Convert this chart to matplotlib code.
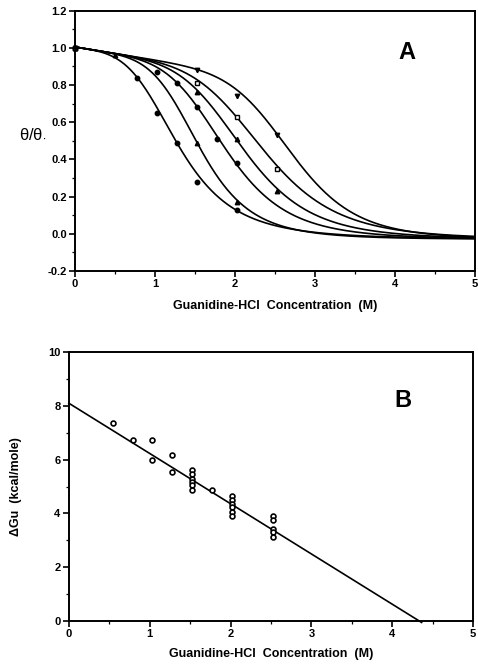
import numpy as np
import matplotlib.pyplot as plt
from matplotlib.ticker import MultipleLocator

plt.rcParams['font.family'] = ['Liberation Sans', 'DejaVu Sans']
plt.rcParams['font.weight'] = 'bold'
plt.rcParams['mathtext.fontset'] = 'dejavusans'
plt.rcParams['mathtext.default'] = 'regular'

# --- panel A: unfolding curves (measured points + fitted curves) ---
a_x = [
    [0, 0.78, 1.03, 1.28, 1.53, 2.03],
    [0, 0.50, 1.53, 2.03],
    [0, 1.03, 1.28, 1.53, 1.78, 2.03],
    [0, 1.53, 2.03, 2.53],
    [0, 1.53, 2.03, 2.53],
    [0, 1.53, 2.03, 2.53],
]
a_y = [
    [1.0, 0.84, 0.65, 0.49, 0.28, 0.13],
    [1.0, 0.96, 0.49, 0.17],
    [1.0, 0.87, 0.81, 0.68, 0.51, 0.38],
    [1.0, 0.76, 0.51, 0.23],
    [1.0, 0.81, 0.63, 0.35],
    [1.0, 0.88, 0.74, 0.53],
]
a_markers = ['o', '^', 'o', '^', 's', 'v']
a_filled = [True, True, True, True, False, True]

# fitted transition parameters for each curve
fit_cm = [1.34, 1.60, 1.94, 2.18, 2.45, 2.78]
fit_n = [3.8, 5.0, 5.0, 5.2, 5.3, 6.9]
base_native = (1.005, -0.07)   # intercept, slope
base_unfolded = -0.03

# --- panel B: free energy of unfolding vs denaturant ---
b_x = [0.55, 0.79, 1.03, 1.03, 1.28, 1.27,
       1.52, 1.52, 1.52, 1.52, 1.52, 1.52, 1.77,
       2.02, 2.02, 2.02, 2.02, 2.02, 2.02,
       2.52, 2.52, 2.52, 2.52, 2.52]
b_y = [7.36, 6.72, 6.72, 6.00, 6.17, 5.55,
       5.60, 5.45, 5.29, 5.17, 5.04, 4.86, 4.86,
       4.65, 4.49, 4.36, 4.24, 4.05, 3.90,
       3.89, 3.74, 3.41, 3.29, 3.12]
dg_water = 8.1
m_value = 1.87


def unfold_curve(x, cm, n):
    yn = base_native[0] + base_native[1] * x
    fu = np.zeros_like(x)
    nz = x > 0
    fu[nz] = 1.0 / (1.0 + (cm / x[nz]) ** n)
    return yn * (1 - fu) + base_unfolded * fu


def style_axes(ax):
    for sp in ax.spines.values():
        sp.set_linewidth(1.4)
    ax.tick_params(which='major', direction='out', length=4, width=1.2,
                   labelsize=8, pad=2)
    ax.tick_params(which='minor', direction='out', length=2, width=0.9)
    for lab in ax.get_xticklabels() + ax.get_yticklabels():
        lab.set_fontweight('bold')


fig = plt.figure(figsize=(4.78, 6.72), dpi=100)

axA = fig.add_axes([0.157, 0.597, 0.837, 0.387])
xs = np.linspace(0, 5, 400)
for i in range(len(fit_cm)):
    axA.plot(xs, unfold_curve(xs, fit_cm[i], fit_n[i]), color='black', lw=1.2)
    axA.plot(a_x[i], a_y[i], linestyle='none', marker=a_markers[i], ms=3.2,
             mec='black', mfc='black' if a_filled[i] else 'white', mew=1.0,
             clip_on=False, zorder=3)
axA.set_xlim(0, 5)
axA.set_ylim(-0.2, 1.2)
axA.xaxis.set_major_locator(MultipleLocator(1))
axA.xaxis.set_minor_locator(MultipleLocator(0.5))
axA.yaxis.set_minor_locator(MultipleLocator(0.1))
axA.set_yticks(np.arange(-0.2, 1.21, 0.2))
axA.set_yticklabels(['%.1f' % v for v in np.arange(-0.2, 1.21, 0.2)])
axA.set_xlabel('Guanidine-HCl  Concentration  (M)', fontsize=9,
               fontweight='bold', labelpad=8)
axA.set_ylabel(r'θ/θ$_{\bullet}$', fontsize=12, fontweight='normal',
               rotation=0)
axA.yaxis.set_label_coords(-0.105, 0.5)
axA.text(0.83, 0.84, 'A', transform=axA.transAxes, fontsize=17,
         fontweight='bold', ha='center', va='center')
style_axes(axA)

axB = fig.add_axes([0.144, 0.076, 0.846, 0.400])
line_x = np.array([0, dg_water / m_value + 0.03])
axB.plot(line_x, dg_water - m_value * line_x, color='black', lw=1.2,
         clip_on=False)
axB.plot(b_x, b_y, linestyle='none', marker='o', ms=3.5, mfc='white',
         mec='black', mew=1.2, zorder=3)
axB.set_xlim(0, 5)
axB.set_ylim(0, 10)
axB.xaxis.set_major_locator(MultipleLocator(1))
axB.xaxis.set_minor_locator(MultipleLocator(0.5))
axB.yaxis.set_major_locator(MultipleLocator(2))
axB.yaxis.set_minor_locator(MultipleLocator(1))
axB.set_xlabel('Guanidine-HCl  Concentration  (M)', fontsize=9,
               fontweight='bold', labelpad=6)
axB.set_ylabel('ΔGu  (kcal/mole)', fontsize=9, fontweight='bold')
axB.yaxis.set_label_coords(-0.115, 0.5)
axB.text(0.827, 0.82, 'B', transform=axB.transAxes, fontsize=17,
         fontweight='bold', ha='center', va='center')
style_axes(axB)

fig.savefig('out.png', dpi=100)
